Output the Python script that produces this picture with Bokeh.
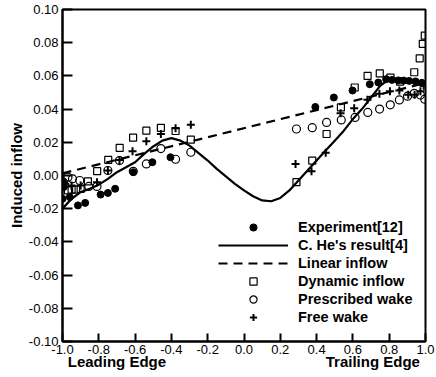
from bokeh.plotting import figure
from bokeh.models import (FixedTicker, PrintfTickFormatter, Legend, LegendItem,
                          LinearAxis, Range1d)
from bokeh.embed import file_html
from bokeh.resources import INLINE

# ---------------- data ----------------
x_ticks = [-1.0, -0.8, -0.6, -0.4, -0.2, 0.0, 0.2, 0.4, 0.6, 0.8, 1.0]
y_ticks = [-0.10, -0.08, -0.06, -0.04, -0.02, 0.00, 0.02, 0.04, 0.06, 0.08, 0.10]
edge_ticks = [-0.7, 0.71]
edge_labels = ["Leading Edge", "Trailing Edge"]

exp_x = [-1.00, -0.995, -0.96, -0.915, -0.875, -0.79, -0.75, -0.71, -0.61, -0.505, -0.405,
         0.393, 0.495, 0.598, 0.693, 0.74, 0.783, 0.815, 0.85, 0.88, 0.91, 0.945, 0.98]
exp_y = [-0.014, -0.007, -0.013, -0.018, -0.0165, -0.0115, -0.0105, -0.008, 0.002, 0.008, 0.011,
         0.0413, 0.047, 0.0512, 0.055, 0.056, 0.058, 0.0576, 0.0573, 0.0572, 0.057, 0.0567, 0.0558]

he_x = [-1.00, -0.95, -0.90, -0.85, -0.80, -0.75, -0.70, -0.65, -0.60, -0.55, -0.50,
        -0.45, -0.40, -0.35, -0.30, -0.25, -0.20, -0.15, -0.10, -0.05, 0.00,
        0.05, 0.10, 0.15, 0.20, 0.25, 0.30, 0.35, 0.40, 0.45, 0.50,
        0.55, 0.60, 0.65, 0.70, 0.75, 0.80, 0.85, 0.90, 0.95, 1.00]
he_y = [-0.020, -0.014, -0.010, -0.008, -0.0055, -0.002, 0.002, 0.005, 0.008, 0.013, 0.0175,
        0.021, 0.0225, 0.021, 0.018, 0.0135, 0.009, 0.004, -0.0005, -0.005, -0.009,
        -0.0125, -0.015, -0.0155, -0.0135, -0.009, -0.003, 0.003, 0.009, 0.015, 0.021,
        0.027, 0.034, 0.040, 0.047, 0.054, 0.058, 0.0585, 0.058, 0.057, 0.056]

lin_x = [-1.0, 1.0]
lin_y = [0.0013, 0.0557]

dyn_x = [-0.995, -0.97, -0.95, -0.925, -0.90, -0.86, -0.809, -0.748, -0.685, -0.611, -0.538,
         -0.458, -0.377, -0.293,
         0.289, 0.376, 0.455, 0.534, 0.61, 0.681, 0.748, 0.807, 0.86, 0.938, 0.968, 0.985, 0.996]
dyn_y = [-0.006, -0.009, -0.0085, -0.0085, -0.008, -0.0035, 0.0026, 0.0094, 0.0167, 0.0228, 0.027,
         0.0287, 0.0268, 0.0216,
         -0.004, 0.009, 0.025, 0.041, 0.053, 0.060, 0.0615, 0.059, 0.0565, 0.0622, 0.0706, 0.0793, 0.0843]

pre_x = [-0.995, -0.97, -0.945, -0.905, -0.855, -0.81, -0.75, -0.686, -0.61, -0.538, -0.458,
         -0.377, -0.293,
         0.289, 0.376, 0.455, 0.536, 0.612, 0.682, 0.747, 0.806, 0.856, 0.901, 0.938, 0.972, 0.996]
pre_y = [-0.004, -0.001, -0.002, -0.003, -0.0066, -0.0066, 0.003, 0.009, 0.0025, 0.007, 0.0162,
         0.0098, 0.014,
         0.028, 0.0288, 0.032, 0.0335, 0.035, 0.038, 0.040, 0.0426, 0.0455, 0.0478, 0.0495, 0.0485, 0.046]

free_x = [-1.0, -0.985, -0.95, -0.90, -0.81, -0.75, -0.686, -0.614, -0.538, -0.458, -0.377, -0.293,
          0.284, 0.372, 0.45, 0.532, 0.607, 0.68, 0.746, 0.804, 0.856, 0.905, 0.94, 0.972, 0.99]
free_y = [-0.003, -0.005, -0.006, -0.006, -0.004, 0.003, 0.0094, 0.0146, 0.0207, 0.025, 0.0285, 0.0306,
          0.007, 0.0025, 0.0137, 0.0375, 0.0405, 0.0456, 0.0492, 0.0508, 0.0512, 0.0487, 0.0487, 0.0508, 0.054]

labels = ["Experiment[12]", "C. He's result[4]", "Linear inflow",
          "Dynamic inflow", "Prescribed wake", "Free wake"]

FONT = "Liberation Sans"

# ---------------- figure ----------------
p = figure(width=436, height=377, output_backend="svg", toolbar_location=None,
           x_range=Range1d(-1.0, 1.0), y_range=Range1d(-0.10, 0.10),
           min_border_left=62, min_border_right=11, min_border_top=9, min_border_bottom=36)
p.grid.visible = False
p.outline_line_color = "black"
p.outline_line_width = 2
p.outline_line_alpha = 1.0
p.background_fill_color = "white"
p.border_fill_color = "white"

p.xaxis.ticker = FixedTicker(ticks=x_ticks)
p.yaxis.ticker = FixedTicker(ticks=y_ticks)
p.xaxis.formatter = PrintfTickFormatter(format="%.1f")
p.yaxis.formatter = PrintfTickFormatter(format="%.2f")

for ax in (p.xaxis[0], p.yaxis[0]):
    ax.axis_line_width = 2
    ax.axis_line_color = "black"
    ax.major_tick_line_width = 2
    ax.major_tick_line_color = "black"
    ax.major_tick_out = 0
    ax.minor_tick_line_color = None
    ax.major_label_text_font = FONT
    ax.major_label_text_font_size = "13px"
    ax.major_label_text_color = "black"

p.xaxis.major_tick_in = 8
p.yaxis.major_tick_in = 10
p.xaxis.major_label_standoff = 3
p.yaxis.major_label_standoff = 4

p.yaxis.axis_label = "Induced inflow"
p.yaxis.axis_label_text_font = FONT
p.yaxis.axis_label_text_font_style = "bold"
p.yaxis.axis_label_text_font_size = "15px"
p.yaxis.axis_label_text_color = "black"
p.yaxis.axis_label_standoff = 1

# second bottom axis carrying the edge captions
edge_axis = LinearAxis(ticker=FixedTicker(ticks=edge_ticks),
                       major_label_overrides={edge_ticks[0]: edge_labels[0],
                                              edge_ticks[1]: edge_labels[1]},
                       axis_line_color=None, major_tick_line_color=None,
                       minor_tick_line_color=None, major_tick_in=0, major_tick_out=0,
                       major_label_standoff=-4,
                       major_label_text_font=FONT, major_label_text_font_style="bold",
                       major_label_text_font_size="15px", major_label_text_color="black")
p.add_layout(edge_axis, "below")

# ---------------- glyphs ----------------
r_lin = p.line(lin_x, lin_y, line_color="black", line_width=2.2, line_dash="9 6")
r_he = p.line(he_x, he_y, line_color="black", line_width=2.2)
r_dyn = p.scatter(dyn_x, dyn_y, marker="square", size=7, fill_color=None,
                  line_color="black", line_width=1.2)
r_pre = p.scatter(pre_x, pre_y, marker="circle", size=8, fill_color=None,
                  line_color="black", line_width=1.2)
r_free = p.scatter(free_x, free_y, marker="cross", size=8,
                   line_color="black", line_width=2)
r_exp = p.scatter(exp_x, exp_y, marker="circle", size=7, fill_color="black",
                  line_color="black")

legend = Legend(items=[
    LegendItem(label=labels[0], renderers=[r_exp]),
    LegendItem(label=labels[1], renderers=[r_he]),
    LegendItem(label=labels[2], renderers=[r_lin]),
    LegendItem(label=labels[3], renderers=[r_dyn]),
    LegendItem(label=labels[4], renderers=[r_pre]),
    LegendItem(label=labels[5], renderers=[r_free]),
], location=(156, 15), glyph_width=70, glyph_height=18, label_height=18,
    spacing=0, padding=0, margin=0, label_standoff=10,
    border_line_alpha=0, background_fill_alpha=0,
    label_text_font=FONT, label_text_font_style="bold",
    label_text_font_size="14.5px", label_text_color="black")
p.add_layout(legend)

open("out.html", "w").write(file_html(p, INLINE))
